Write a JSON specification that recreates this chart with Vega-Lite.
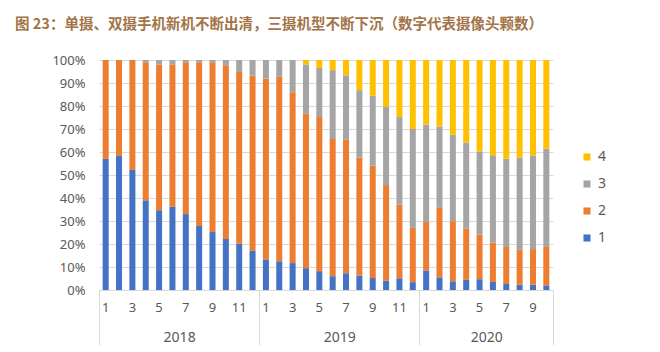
{
  "$schema": "https://vega.github.io/schema/vega-lite/v6.json",
  "width": 454,
  "height": 230,
  "autosize": {"type": "none"},
  "padding": {"left": 99, "top": 60, "right": 107, "bottom": 62},
  "background": "white",
  "config": {"view": {"stroke": null}},
  "title": {
    "text": "图 23：单摄、双摄手机新机不断出清，三摄机型不断下沉（数字代表摄像头颗数）",
    "anchor": "start",
    "frame": "group",
    "dx": -84,
    "offset": 22,
    "font": "Noto Sans CJK SC",
    "fontSize": 14.5,
    "fontWeight": "bold",
    "color": "#A27448"
  },
  "data": {
    "values": [
      {"k": "2018-01", "1": 57, "2": 43, "3": 0, "4": 0},
      {"k": "2018-02", "1": 58.3, "2": 41.7, "3": 0, "4": 0},
      {"k": "2018-03", "1": 52.2, "2": 47.8, "3": 0, "4": 0},
      {"k": "2018-04", "1": 39, "2": 60, "3": 1, "4": 0},
      {"k": "2018-05", "1": 34.7, "2": 63.3, "3": 2, "4": 0},
      {"k": "2018-06", "1": 36.2, "2": 61.8, "3": 2, "4": 0},
      {"k": "2018-07", "1": 33, "2": 66, "3": 1, "4": 0},
      {"k": "2018-08", "1": 27.8, "2": 71.2, "3": 1, "4": 0},
      {"k": "2018-09", "1": 25.2, "2": 73.8, "3": 1, "4": 0},
      {"k": "2018-10", "1": 22.2, "2": 75.5, "3": 2.3, "4": 0},
      {"k": "2018-11", "1": 20.1, "2": 74.7, "3": 5.2, "4": 0},
      {"k": "2018-12", "1": 17.2, "2": 76.1, "3": 6.7, "4": 0},
      {"k": "2019-01", "1": 13.3, "2": 78.7, "3": 8, "4": 0},
      {"k": "2019-02", "1": 12.5, "2": 80.2, "3": 7.3, "4": 0},
      {"k": "2019-03", "1": 11.7, "2": 74.3, "3": 14, "4": 0},
      {"k": "2019-04", "1": 9.5, "2": 67.2, "3": 21.4, "4": 1.9},
      {"k": "2019-05", "1": 8.2, "2": 67, "3": 21.4, "4": 3.4},
      {"k": "2019-06", "1": 6, "2": 59.6, "3": 30, "4": 4.4},
      {"k": "2019-07", "1": 7.3, "2": 58, "3": 28, "4": 6.7},
      {"k": "2019-08", "1": 6.3, "2": 51.3, "3": 29.3, "4": 13.1},
      {"k": "2019-09", "1": 5.2, "2": 48.8, "3": 30.5, "4": 15.5},
      {"k": "2019-10", "1": 4.1, "2": 41.5, "3": 34, "4": 20.4},
      {"k": "2019-11", "1": 5.1, "2": 32.1, "3": 38, "4": 24.8},
      {"k": "2019-12", "1": 3.4, "2": 23.6, "3": 43, "4": 30},
      {"k": "2020-01", "1": 8.5, "2": 21.1, "3": 42.3, "4": 28.1},
      {"k": "2020-02", "1": 5.5, "2": 30.2, "3": 35.4, "4": 28.9},
      {"k": "2020-03", "1": 3.8, "2": 26.1, "3": 37.6, "4": 32.5},
      {"k": "2020-04", "1": 4.4, "2": 22.3, "3": 37.4, "4": 35.9},
      {"k": "2020-05", "1": 4.7, "2": 19.5, "3": 36, "4": 39.8},
      {"k": "2020-06", "1": 3.5, "2": 17.1, "3": 38, "4": 41.4},
      {"k": "2020-07", "1": 2.6, "2": 16.1, "3": 38.4, "4": 42.9},
      {"k": "2020-08", "1": 2.3, "2": 15.2, "3": 40.1, "4": 42.4},
      {"k": "2020-09", "1": 2.3, "2": 15.5, "3": 40.7, "4": 41.5},
      {"k": "2020-10", "1": 2, "2": 16.7, "3": 42.8, "4": 38.5}
    ]
  },
  "transform": [{"fold": ["1", "2", "3", "4"], "as": ["n", "v"]}],
  "layer": [
    {
      "mark": {"type": "bar", "width": {"band": 0.45}},
      "encoding": {
        "x": {
          "field": "k",
          "type": "ordinal",
          "scale": {"paddingInner": 0, "paddingOuter": 0},
          "axis": {
            "title": null,
            "orient": "bottom",
            "labelExpr": "parseInt(substring(datum.value, 5, 7)) % 2 == 1 ? '' + parseInt(substring(datum.value, 5, 7)) : ''",
            "labelAngle": 0,
            "labelOverlap": false,
            "ticks": false,
            "domainColor": "#D9D9D9",
            "labelPadding": 11,
            "labelFont": "Noto Sans",
            "labelFontSize": 13,
            "labelColor": "#595959"
          }
        },
        "y": {
          "field": "v",
          "type": "quantitative",
          "stack": "normalize",
          "scale": {"domain": [0, 1]},
          "axis": {
            "title": null,
            "format": ".0%",
            "values": [0, 0.1, 0.2, 0.3, 0.4, 0.5, 0.6, 0.7, 0.8, 0.9, 1],
            "tickCount": 11,
            "labelOverlap": false,
            "ticks": false,
            "domain": false,
            "gridColor": "#D9D9D9",
            "labelPadding": 14,
            "labelFont": "Noto Sans",
            "labelFontSize": 13,
            "labelColor": "#595959"
          }
        },
        "color": {
          "field": "n",
          "type": "nominal",
          "scale": {"domain": ["1", "2", "3", "4"], "range": ["#4472C4", "#ED7D31", "#A5A5A5", "#FFC000"]},
          "legend": {
            "title": null,
            "orient": "none",
            "legendX": 481,
            "legendY": 90,
            "padding": 0,
            "values": ["4", "3", "2", "1"],
            "symbolType": "square",
            "symbolSize": 50,
            "symbolStrokeWidth": 0,
            "rowPadding": 13,
            "labelFont": "Noto Sans",
            "labelFontSize": 14,
            "labelColor": "#595959"
          }
        },
        "order": {"field": "n", "type": "ordinal"}
      }
    },
    {
      "mark": {"type": "bar", "opacity": 0, "width": {"band": 0.45}},
      "encoding": {
        "x": {
          "field": "k",
          "type": "ordinal",
          "axis": {
            "title": null,
            "orient": "bottom",
            "tickBand": "extent",
            "tickSize": 55,
            "tickColor": "#D9D9D9",
            "tickOpacity": {"condition": {"test": "datum.index < 0 || datum.index == 1 || substring(datum.value, 5, 7) == '12'", "value": 1}, "value": 0},
            "domain": false,
            "grid": false,
            "labelAngle": 0,
            "labelOverlap": false,
            "labelExpr": "datum.value == '2018-06' ? '2018' : datum.value == '2019-06' ? '2019' : datum.value == '2020-05' ? '2020' : ''",
            "labelOffset": 6.68,
            "labelPadding": -15,
            "labelFont": "Noto Sans",
            "labelFontSize": 14,
            "labelColor": "#595959"
          }
        },
        "y": {
          "field": "v",
          "type": "quantitative",
          "stack": "normalize",
          "axis": {
            "title": null,
            "format": ".0%",
            "values": [0, 0.1, 0.2, 0.3, 0.4, 0.5, 0.6, 0.7, 0.8, 0.9, 1],
            "tickCount": 11,
            "labelOverlap": false,
            "ticks": false,
            "domain": false,
            "gridColor": "#D9D9D9",
            "labelPadding": 14,
            "labelFont": "Noto Sans",
            "labelFontSize": 13,
            "labelColor": "#595959"
          }
        }
      }
    }
  ],
  "resolve": {"axis": {"x": "independent"}}
}
